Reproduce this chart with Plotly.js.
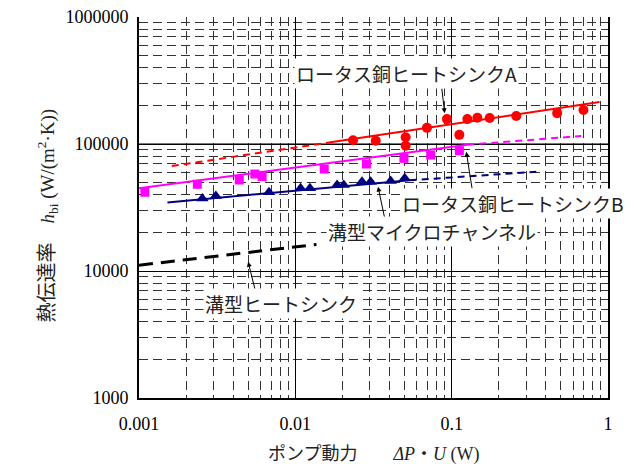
<!DOCTYPE html>
<html>
<head>
<meta charset="utf-8">
<script src="https://cdn.plot.ly/plotly-3.0.1.min.js"></script>
<style>html,body{margin:0;padding:0;background:#fff;}#chart{width:636px;height:464px;}</style>
</head>
<body>
<div id="chart"></div>
<script>
// ロータス銅ヒートシンクA (red circles)
var aX = [0.0234, 0.0327, 0.0508, 0.0508, 0.0695, 0.0933, 0.112, 0.126, 0.146, 0.175, 0.259, 0.473, 0.697];
var aY = [107000, 106000, 113000, 97000, 134000, 157000, 118000, 157000, 161000, 160000, 166000, 175000, 185000];
var aFitSolidX = [0.0164, 0.883];
var aFitSolidY = [102800, 214000];
var aFitDashX = [0.00162, 0.0164];
var aFitDashY = [67100, 102800];

// ロータス銅ヒートシンクB (magenta squares)
var bX = [0.00109, 0.00236, 0.00438, 0.00551, 0.00613, 0.0153, 0.0285, 0.0495, 0.0734, 0.112];
var bY = [41700, 48200, 52100, 58000, 55300, 63500, 69600, 77100, 81900, 88500];
var bFitSolidX = [0.001, 0.126];
var bFitSolidY = [44900, 98600];
var bFitDashX = [0.126, 0.675];
var bFitDashY = [98600, 115600];

// 溝型マイクロチャンネル (navy triangles)
var cX = [0.00254, 0.00310, 0.00678, 0.0108, 0.0124, 0.0185, 0.0204, 0.0267, 0.0303, 0.0407, 0.0501];
var cY = [37300, 39000, 41700, 44800, 44800, 47500, 47500, 50500, 50500, 51100, 53700];
var cFitSolidX = [0.00152, 0.0539];
var cFitSolidY = [34700, 51800];
var cFitDashX = [0.0539, 0.348];
var cFitDashY = [51800, 60500];

// 溝型ヒートシンク (black dashed)
var dX = [0.001, 0.01365];
var dY = [11100, 16200];

var xTickVals = [0.001, 0.01, 0.1, 1];
var xTickText = ['0.001', '0.01', '0.1', '1'];
var yTickVals = [1000, 10000, 100000, 1000000];
var yTickText = ['1000', '10000', '100000', '1000000'];

var labels = ['ロータス銅ヒートシンクA', 'ロータス銅ヒートシンクB', '溝型マイクロチャンネル', '溝型ヒートシンク'];
var labelX = [0.0515, 0.245, 0.0745, 0.00807];
var labelY = [362000, 34300, 20400, 5570];
var arrowHeadX = [0.0902, 0.124, 0.0338, 0.00499];
var arrowHeadY = [175000, 86900, 46100, 11800];
var arrowOff = [[-3, -26], [6, 38], [7, 33], [8, 32]];

var RED = '#ff0000', MAG = '#ff00ff', NAVY = '#000080';

function line(x, y, color, dash, w) {
  return {x: x, y: y, mode: 'lines', type: 'scatter', hoverinfo: 'skip',
    line: {color: color, width: w || 2, dash: dash || 'solid'}};
}

var traces = [
  line(dX, dY, '#000', '14px,8px', 3),
  line(aFitDashX, aFitDashY, RED, '7px,5px'),
  line(aFitSolidX, aFitSolidY, RED),
  line(bFitSolidX, bFitSolidY, MAG),
  line(bFitDashX, bFitDashY, MAG, '7px,5px'),
  line(cFitSolidX, cFitSolidY, NAVY),
  line(cFitDashX, cFitDashY, NAVY, '7px,5px'),
  {x: bX, y: bY, mode: 'markers', type: 'scatter', marker: {symbol: 'square', size: 9, color: MAG}},
  {x: cX, y: cY, mode: 'markers', type: 'scatter', marker: {symbol: 'triangle-up', size: 11, color: NAVY}},
  {x: aX, y: aY, mode: 'markers', type: 'scatter', marker: {symbol: 'circle', size: 10, color: RED}}
];

var annotations = [];
for (var i = 0; i < labels.length; i++) {
  annotations.push({
    x: Math.log10(arrowHeadX[i]), y: Math.log10(arrowHeadY[i]), xref: 'x', yref: 'y',
    text: '', showarrow: true, arrowhead: 2, arrowsize: 1, arrowwidth: 1, arrowcolor: '#000',
    ax: arrowOff[i][0], ay: arrowOff[i][1], standoff: 0, startstandoff: 0
  });
}
for (var j = 0; j < labels.length; j++) {
  annotations.push({
    x: Math.log10(labelX[j]), y: Math.log10(labelY[j]), xref: 'x', yref: 'y',
    text: labels[j], showarrow: false, bgcolor: '#fff', borderpad: 1,
    font: {family: '"Noto Sans CJK JP", sans-serif', size: 19, color: '#222'}
  });
}
annotations.push({
  xref: 'paper', yref: 'paper', x: -0.228, y: 0.478, textangle: -90, showarrow: false,
  text: '<span style="font-size:20px">熱伝達率</span>　<i>h</i><sub>bi</sub> (W/(m<sup>2</sup>·K))',
  font: {family: '"Liberation Serif", "Noto Sans CJK JP", serif', size: 19, color: '#222'}
});
annotations.push({
  xref: 'paper', yref: 'paper', x: 0.5, y: -0.148, yanchor: 'middle', showarrow: false,
  text: 'ポンプ動力　　<i>ΔP</i>・<i>U</i> (W)',
  font: {family: '"Liberation Serif", "Noto Sans CJK JP", serif', size: 18, color: '#222'}
});

var gridDash = '9px,5px';
var layout = {
  width: 636, height: 464,
  margin: {l: 139, r: 28, t: 17, b: 66},
  paper_bgcolor: '#fff', plot_bgcolor: '#fff',
  showlegend: false,
  font: {family: '"Liberation Serif", serif', size: 18, color: '#000'},
  xaxis: {
    type: 'log', range: [-3, 0], tickvals: xTickVals, ticktext: xTickText,
    showgrid: true, gridcolor: '#000', gridwidth: 1,
    showline: true, linecolor: '#000', linewidth: 2, mirror: false,
    ticks: '', zeroline: false, ticklabelstandoff: 8,
    minor: {dtick: 'D1', showgrid: true, gridcolor: '#333', gridwidth: 1, griddash: gridDash, ticks: ''}
  },
  yaxis: {
    type: 'log', range: [3, 6], tickvals: yTickVals, ticktext: yTickText,
    showgrid: true, gridcolor: '#000', gridwidth: 1,
    showline: true, linecolor: '#000', linewidth: 2, mirror: true,
    ticks: '', zeroline: false, ticklabelstandoff: 5,
    minor: {dtick: 'D1', showgrid: true, gridcolor: '#333', gridwidth: 1, griddash: gridDash, ticks: ''}
  },
  shapes: [
    {type: 'line', xref: 'paper', yref: 'y', x0: 0, x1: 1, y0: yTickVals[2], y1: yTickVals[2],
     line: {color: '#777', width: 2}, layer: 'below'}
  ],
  annotations: annotations
};

Plotly.newPlot('chart', traces, layout, {staticPlot: true, displayModeBar: false});
</script>
</body>
</html>
